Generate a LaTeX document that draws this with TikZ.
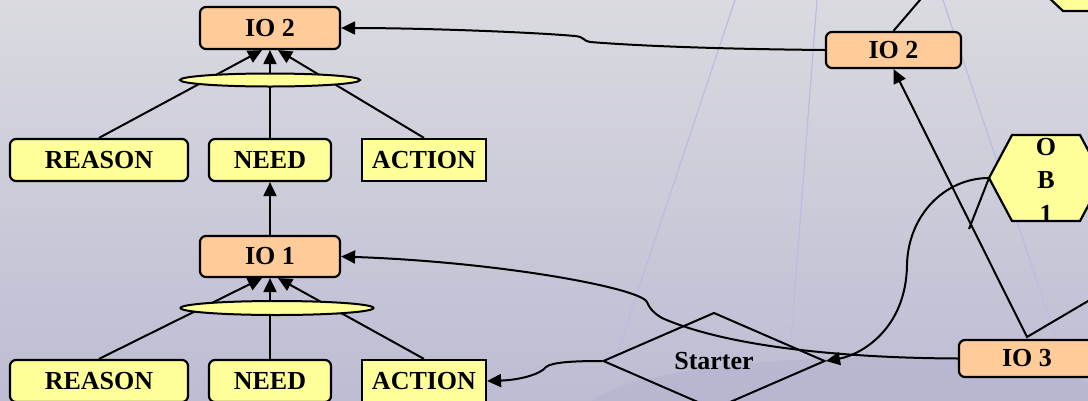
\documentclass[tikz,border=0pt]{standalone}
\usepackage{fontspec}
\setmainfont{Liberation Serif}
\usetikzlibrary{arrows.meta,shapes.geometric}
\definecolor{orangebox}{HTML}{FFCC99}
\definecolor{yellowbox}{HTML}{FFFF99}
\definecolor{bgtop}{RGB}{218,218,224}
\definecolor{bgbot}{RGB}{189,188,211}
\definecolor{faint}{RGB}{188,188,224}
\definecolor{bandcol}{RGB}{178,178,208}
\begin{document}
\begin{tikzpicture}[x=1pt,y=-1pt,
  font=\fontsize{26}{33.5}\selectfont\bfseries,
  box/.style={draw=black, line width=2.2pt, inner sep=0pt, rounded corners=6pt},
  iobox/.style={box, fill=orangebox},
  ybox/.style={box, fill=yellowbox, minimum height=42pt},
  ellip/.style={ellipse, draw=black, line width=2pt, fill=yellowbox, inner sep=0pt},
  conn/.style={line width=2pt},
  arr/.style={conn, -{Triangle[length=14pt,width=13pt]}},
  bgline/.style={draw=faint, line width=1.2pt}]
% background
\fill[top color=bgtop, bottom color=bgbot] (0,0) rectangle (1088,400);
\useasboundingbox (0,0) rectangle (1088,400);
\fill[bandcol, opacity=0.5] (590,402) .. controls (640,365) and (800,355) .. (950,357)
  .. controls (1020,358) and (1070,370) .. (1090,385) -- (1090,402) -- cycle;
\draw[bgline] (735,0) -- (605,390);
\draw[bgline] (817,0) -- (791,340);
\draw[bgline] (943,0) -- (1065,365);

% left nodes
\node[iobox, minimum width=140pt, minimum height=42pt] (io2L) at (270,28) {IO 2};
\node[ybox, minimum width=178pt] (r1) at (99,160) {REASON};
\node[ybox, minimum width=122pt] (n1) at (270,160) {NEED};
\node[ybox, sharp corners, minimum width=124pt] (a1) at (424,160) {ACTION};
\node[iobox, minimum width=140pt, minimum height=41pt] (io1) at (270,256.5) {IO 1};
\node[ybox, minimum width=178pt] (r2) at (99,381) {REASON};
\node[ybox, minimum width=122pt] (n2) at (270,381) {NEED};
\node[ybox, sharp corners, minimum width=124pt] (a2) at (424,381) {ACTION};

% right nodes
\node[iobox, minimum width=135pt, minimum height=36pt] (io2R) at (893.5,50) {IO 2};
\node[iobox, minimum width=136pt, minimum height=37pt] (io3) at (1027,358.5) {IO 3};
\node[diamond, draw=black, line width=2pt, inner sep=0pt,
      minimum width=222pt, minimum height=66pt] (st) at (714,361) {Starter};
\draw[line width=2.2pt, fill=yellowbox] (1046,-5) -- (1063,11) -- (1095,11) -- (1095,-5) -- cycle;
\draw[line width=2.2pt, fill=yellowbox] (989,178) -- (1012,135) -- (1080,135) -- (1103,178)
  -- (1080,221) -- (1012,221) -- cycle;
\node[align=center, inner sep=0pt] (ob1) at (1046,180) {O\\B\\1};
\coordinate (ob1w) at (989,178);
\coordinate (obEnd) at (969,229);
\coordinate (v3) at (1027,337);
\coordinate (rEdge) at (1100,294);
\coordinate (tEdge) at (922.5,-3);

% connectors of the tree
\draw[arr] (r1.north) -- ([xshift=-8pt]io2L.south);
\draw[arr] (n1.north) -- (io2L.south);
\draw[arr] (a1.north) -- ([xshift=8pt]io2L.south);
\draw[arr] (r2.north) -- ([xshift=-8pt]io1.south);
\draw[arr] (n2.north) -- (io1.south);
\draw[arr] (a2.north) -- ([xshift=8pt]io1.south);
\draw[arr] (io1.north) -- (n1.south);
\node[ellip, minimum width=180pt, minimum height=13pt] (e2) at (270,80) {};
\node[ellip, minimum width=193pt, minimum height=14pt] (e1) at (277,308) {};

% long connectors
\draw[arr] (io2R.west) .. controls (720,49) and (640,46) .. (590,42)
  .. controls (583,41) and (585,37) .. (575,36)
  .. controls (530,32) and (420,28) .. (io2L.east);
\draw[arr] (io3.west) .. controls (850,358) and (730,348) .. (662,318)
  .. controls (652,312) and (649,307) .. (647,302)
  .. controls (640,288) and (500,262) .. (io1.east);
\draw[arr] (ob1w) .. controls (945,178) and (908,215) .. (907,265)
  .. controls (906,330) and (860,355) .. (st.east);
\draw[arr] (st.west) .. controls (575,361) and (552,362) .. (546,367)
  .. controls (541,374) and (520,380) .. (a2.east);
\draw[arr] (rEdge) -- (v3) -- (io2R.south);
\draw[conn] (io2R.north) -- (tEdge);
\draw[conn] (ob1w) -- (obEnd);
\end{tikzpicture}
\end{document}
